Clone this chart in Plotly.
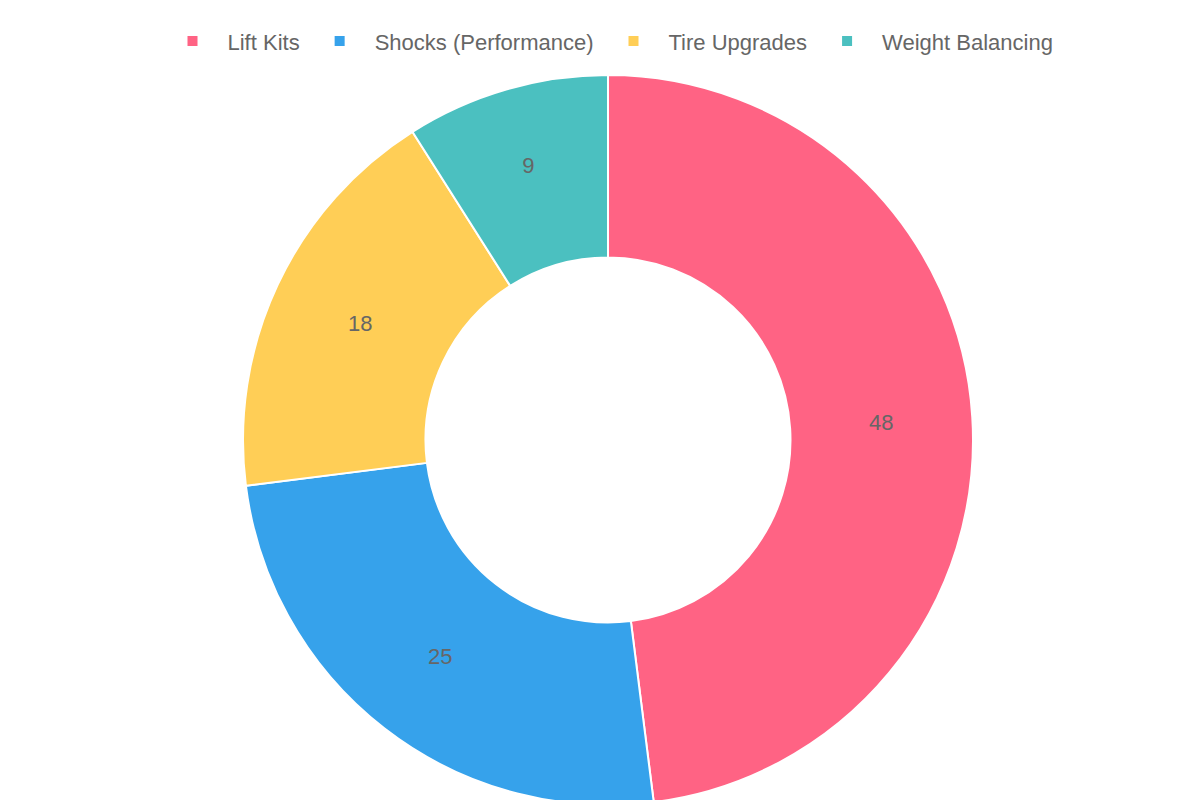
import plotly.graph_objects as go

labels = ["Lift Kits", "Shocks (Performance)", "Tire Upgrades", "Weight Balancing"]
values = [48, 25, 18, 9]
colors = ["#FF6384", "#36A2EB", "#FFCE56", "#4BC0C0"]

fig = go.Figure(go.Pie(
    labels=labels, values=values, hole=0.5, sort=False,
    direction="clockwise", rotation=0,
    marker=dict(colors=colors, line=dict(color="white", width=2)),
    textinfo="value", textposition="inside", insidetextorientation="horizontal",
    textfont=dict(color="#666", size=22, family="Liberation Sans, Arial"),
))
fig.update_layout(
    width=1200, height=800, margin=dict(t=67, b=3, l=0, r=0),
    paper_bgcolor="white", plot_bgcolor="white",
    font=dict(family="Liberation Sans, Arial", color="#666"),
    legend=dict(orientation="h", x=0.5, xanchor="center", y=1.075, yanchor="top",
                font=dict(size=22, color="#666"), itemwidth=60),
)
fig.write_html("out.html")
